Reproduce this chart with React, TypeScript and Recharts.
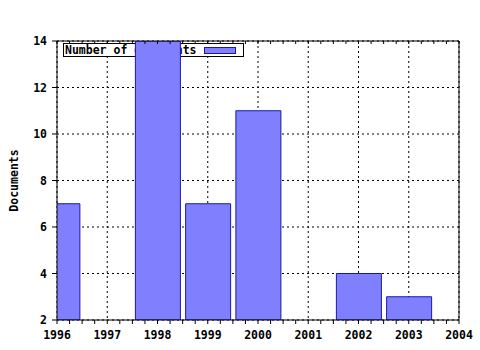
import { BarChart, Bar, XAxis, YAxis, CartesianGrid, Customized } from 'recharts';

const years = [1996, 1997, 1998, 1999, 2000, 2001, 2002, 2003];
const documents = [7, null, 14, 7, 11, null, 4, 3];
const yearTicks = [1996, 1997, 1998, 1999, 2000, 2001, 2002, 2003, 2004];
const quarterTicks = [
  1996, 1996.25, 1996.5, 1996.75, 1997, 1997.25, 1997.5, 1997.75,
  1998, 1998.25, 1998.5, 1998.75, 1999, 1999.25, 1999.5, 1999.75,
  2000, 2000.25, 2000.5, 2000.75, 2001, 2001.25, 2001.5, 2001.75,
  2002, 2002.25, 2002.5, 2002.75, 2003, 2003.25, 2003.5, 2003.75, 2004,
];
const docTicks = [2, 4, 6, 8, 10, 12, 14];
const seriesName = 'Number of documents';
const yLabel = 'Documents';

const data = years.map((year, i) => ({ year, docs: documents[i] }));

const FONT = '"DejaVu Sans Mono", "Liberation Mono", monospace';
const tickStyle = { fontSize: 11.5, fontFamily: FONT, fontWeight: 'bold', fill: '#000' };

// year labels only on whole years, the quarter ticks stay bare
const YearTick = ({ x, y, payload }: any) => {
  if (!Number.isInteger(payload.value)) return <g />;
  return (
    <text x={x} y={y} dy="0.71em" textAnchor="middle" {...tickStyle}>
      {payload.value}
    </text>
  );
};

const NoTick = () => <g />;

// legend drawn inside the svg so the bars paint over it
const LegendBox = () => (
  <g>
    <rect x={63.5} y={43.5} width={180} height={13} fill="#fff" stroke="#000" />
    <text x={65} y={54} {...tickStyle}>{seriesName}</text>
    <rect x={204.5} y={47.5} width={31} height={6} fill="#8080ff" stroke="#1818a8" />
  </g>
);

const YTitle = ({ viewBox }: any) => {
  const cy = viewBox.y + viewBox.height / 2;
  return (
    <text x={14} y={cy} transform={`rotate(-90 14 ${cy})`} textAnchor="middle" dominantBaseline="central" {...tickStyle}>
      {yLabel}
    </text>
  );
};

export default function App() {
  return (
    <div style={{ position: 'absolute', left: 0, top: 0, background: '#fff' }}>
      <BarChart width={480} height={350} data={data} margin={{ top: 41, right: 21, left: 0, bottom: 0 }}>
        <CartesianGrid xAxisId="bars" stroke="#000" strokeDasharray="2 3" />
        <Customized component={<LegendBox />} />
        <XAxis
          xAxisId="bars"
          dataKey="year"
          type="number"
          domain={[1996, 2004]}
          ticks={yearTicks}
          allowDataOverflow
          hide
        />
        <XAxis
          dataKey="year"
          type="number"
          domain={[1996, 2004]}
          ticks={quarterTicks}
          interval={0}
          height={30}
          tickSize={4}
          tickMargin={7}
          tick={<YearTick />}
          stroke="#000"
        />
        <XAxis
          xAxisId="top"
          dataKey="year"
          type="number"
          orientation="top"
          mirror
          domain={[1996, 2004]}
          ticks={quarterTicks}
          interval={0}
          tickSize={3}
          tick={<NoTick />}
          stroke="#000"
        />
        <YAxis
          type="number"
          domain={[2, 14]}
          ticks={docTicks}
          interval={0}
          allowDataOverflow
          width={57}
          tickSize={5}
          tickMargin={5}
          tick={tickStyle}
          stroke="#000"
          label={<YTitle />}
        />
        <YAxis
          yAxisId="right"
          orientation="right"
          mirror
          domain={[2, 14]}
          tick={false}
          tickLine={false}
          stroke="#000"
        />
        <Bar
          xAxisId="bars"
          dataKey="docs"
          barSize={45}
          fill="#8080ff"
          stroke="#1818a8"
          strokeWidth={1}
          isAnimationActive={false}
        />
      </BarChart>
    </div>
  );
}
